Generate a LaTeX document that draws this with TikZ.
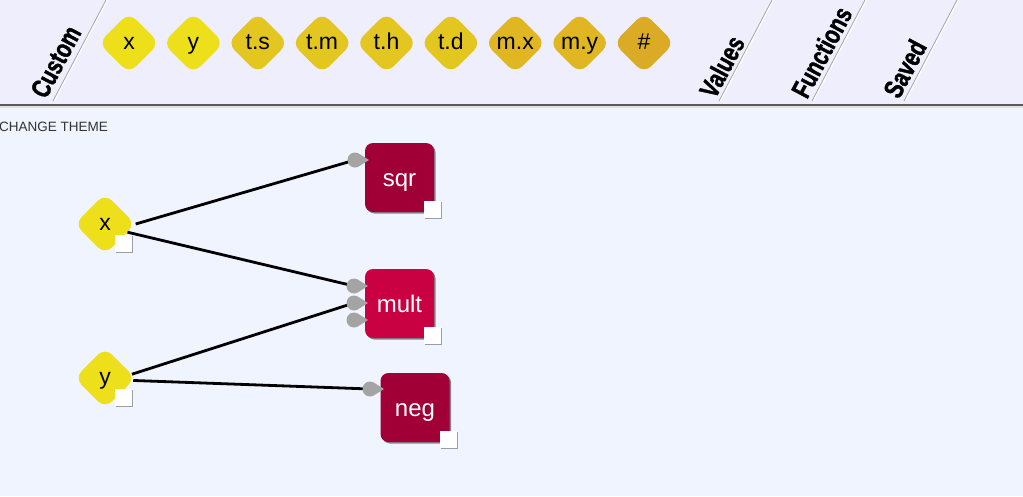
\documentclass[tikz,border=0pt]{standalone}
\usepackage{fontspec}
\setmainfont{Liberation Sans}
\newfontfamily\tabfont{Liberation Sans Bold}[FakeStretch=0.76,FakeBold=1.4]
\usetikzlibrary{shapes.geometric,shadows}

\definecolor{barbg}{HTML}{EEEEFC}
\definecolor{pagebg}{HTML}{F0F4FE}
\definecolor{yelA}{HTML}{EDE01B}
\definecolor{yelB}{HTML}{E4C620}
\definecolor{yelC}{HTML}{E0B722}
\definecolor{yelD}{HTML}{DBAB26}
\definecolor{fnA}{HTML}{A10036}
\definecolor{fnB}{HTML}{C90042}
\definecolor{portgray}{HTML}{A4A4A4}

\tikzset{
  varnode/.style={shape=diamond,aspect=1,minimum size=61pt,inner sep=0pt,
    rounded corners=10pt,fill=#1,font=\fontsize{23}{25}\selectfont,
    text height=16.5pt,text depth=4.5pt},
  fnnode/.style={rectangle,minimum size=69pt,inner sep=0pt,rounded corners=8pt,
    fill=#1,text=white,font=\fontsize{24}{26}\selectfont,
    text height=18pt,text depth=1pt,
    drop shadow={shadow xshift=1.5pt,shadow yshift=-1.5pt,opacity=.45,fill=black}},
  outbox/.style={rectangle,minimum size=17pt,inner sep=0pt,fill=white,
    drop shadow={shadow xshift=1pt,shadow yshift=-1pt,opacity=.35,fill=black}},
  wire/.style={line width=2.8pt,black},
  tablabel/.style={rotate=62,anchor=base west,inner sep=0pt,
    font=\tabfont\fontsize{27}{29}\selectfont},
  port/.pic={\fill[portgray] (0,0) circle[radius=7.5] (4,-6.3) -- (14,0) -- (4,6.3) -- cycle;}
}

\begin{document}
\begin{tikzpicture}[x=1pt,y=-1pt]
  \useasboundingbox (0,0) rectangle (1023,496);

  % toolbar and page
  \fill[pagebg] (0,0) rectangle (1023,496);
  \fill[barbg] (0,0) rectangle (1023,105);
  \fill[black!12] (0,105) rectangle (1023,108);
  \draw[line width=1.5pt,black!65] (0,105) -- (1023,105);

  \foreach \t in {106,772,865,957} {
    \draw[black!35,line width=0.8pt] (\t,0) -- ++(-53,101);
    \draw[white,line width=1pt] (\t+1.5,0) -- ++(-53,101);
  }
  \foreach \lab/\px in {Custom/46,Values/715,Functions/807,Saved/899}
    \node[tablabel] (tab\lab) at (\px,100) {\lab};

  \foreach \lab/\col [count=\i] in {x/yelA,y/yelA,t.s/yelB,t.m/yelB,t.h/yelB,t.d/yelB,m.x/yelC,m.y/yelC,\#/yelD}
    \node[varnode=\col] (tool\i) at ({129+64.375*(\i-1)},43) {\lab};

  \node[anchor=base west,inner sep=0pt,text=black!80,font=\fontsize{13.5}{15}\selectfont]
    (theme) at (-1,131) {CHANGE THEME};

  % graph
  \node[varnode=yelA] (x) at (105,224) {x};
  \node[varnode=yelA] (y) at (105,378) {y};
  \node[fnnode=fnA] (sqr) at (399.5,177.5) {sqr};
  \node[fnnode=fnB] (mult) at (399.5,303.5) {mult};
  \node[fnnode=fnA] (neg) at (415,407.5) {neg};

  \coordinate (sqrin) at (355,160);
  \coordinate (multinA) at (354,286);
  \coordinate (multinB) at (354,303);
  \coordinate (multinC) at (354,320);
  \coordinate (negin) at (370,389);

  \draw[wire] (x.east) -- (sqrin);
  \draw[wire] (x.-20) -- (multinA);
  \draw[wire] (y.8) -- (multinB);
  \draw[wire] (y.-5) -- (negin);

  \foreach \p in {sqrin,multinA,multinB,multinC,negin}
    \pic at (\p) {port};

  \foreach \n in {sqr,mult,neg}
    \node[outbox] (\n out) at ([shift={(-1.5,-2.5)}]\n.south east) {};
  \foreach \n in {x,y}
    \node[outbox] (\n out) at ([shift={(18,19)}]\n.center) {};
\end{tikzpicture}
\end{document}
